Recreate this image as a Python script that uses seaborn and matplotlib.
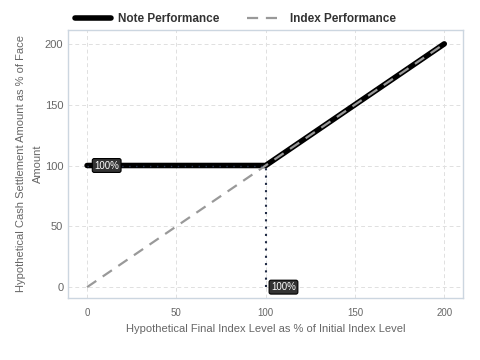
import numpy as np
import pandas as pd
import matplotlib
matplotlib.use("Agg")
import matplotlib.pyplot as plt
import seaborn as sns

# dados do gráfico
index_level = [0, 100, 200]
note_payout = [100, 100, 200]
index_payout = [0, 100, 200]
x_ticks = [0, 50, 100, 150, 200]
y_ticks = [0, 50, 100, 150, 200]

sns.set_theme(style="whitegrid")
plt.rcParams['font.family'] = ['Liberation Sans', 'DejaVu Sans']

fig, ax = plt.subplots(figsize=(4.8, 3.6), dpi=100)
fig.subplots_adjust(left=0.142, right=0.965, top=0.917, bottom=0.172)

df = pd.DataFrame({'x': index_level, 'note': note_payout, 'index': index_payout})

sns.lineplot(data=df, x='x', y='note', ax=ax, color='black', linewidth=4,
             label='Note Performance', zorder=3)
sns.lineplot(data=df, x='x', y='index', ax=ax, color='#999999', linewidth=1.6,
             linestyle=(0, (5, 3.5)), label='Index Performance', zorder=4)

# linhas pontilhadas de referência
ax.plot([100, 100], [0, 100], color='#1f2a44', linestyle=(0, (1, 2.5)), linewidth=1.5, zorder=5)
ax.plot([0, 100], [100, 100], color='#2a3550', linestyle=(0, (1, 4)), linewidth=1.0, zorder=5)

box = dict(boxstyle='round,pad=0.2', fc='#333333', ec='black', lw=0.8)
ax.annotate('100%', xy=(0, 100), xytext=(4, 100), fontsize=7, color='white',
            va='center', ha='left', bbox=box, zorder=6)
ax.annotate('100%', xy=(100, 0), xytext=(103, 0), fontsize=7, color='white',
            va='center', ha='left', bbox=box, zorder=6)

ax.set_xlim(-10.6, 210.6)
ax.set_ylim(-9, 211.5)
ax.set_xticks(x_ticks)
ax.set_yticks(y_ticks)
ax.tick_params(axis='x', labelsize=7, colors='#666666', length=4, color='#ccd6e0')
ax.tick_params(axis='y', labelsize=8, colors='#666666', length=0)
ax.grid(True, color='#e0e0e0', linestyle=(0, (4, 3)), linewidth=0.7)
for s in ax.spines.values():
    s.set_color('#ccd6e0')
    s.set_linewidth(1)

ax.set_xlabel('Hypothetical Final Index Level as % of Initial Index Level',
              fontsize=8, color='#666666')
ax.set_ylabel('Hypothetical Cash Settlement Amount as % of Face\nAmount',
              fontsize=8, color='#666666', linespacing=1.9, labelpad=1)

leg = ax.legend(loc='lower left', bbox_to_anchor=(0.0, 0.99), ncol=2, frameon=False,
                prop={'weight': 'bold', 'size': 8.5}, handlelength=3.0, handletextpad=0.6,
                columnspacing=2.4, borderaxespad=0.2)
for t in leg.get_texts():
    t.set_color('#333333')

plt.savefig('out.png', dpi=100)
